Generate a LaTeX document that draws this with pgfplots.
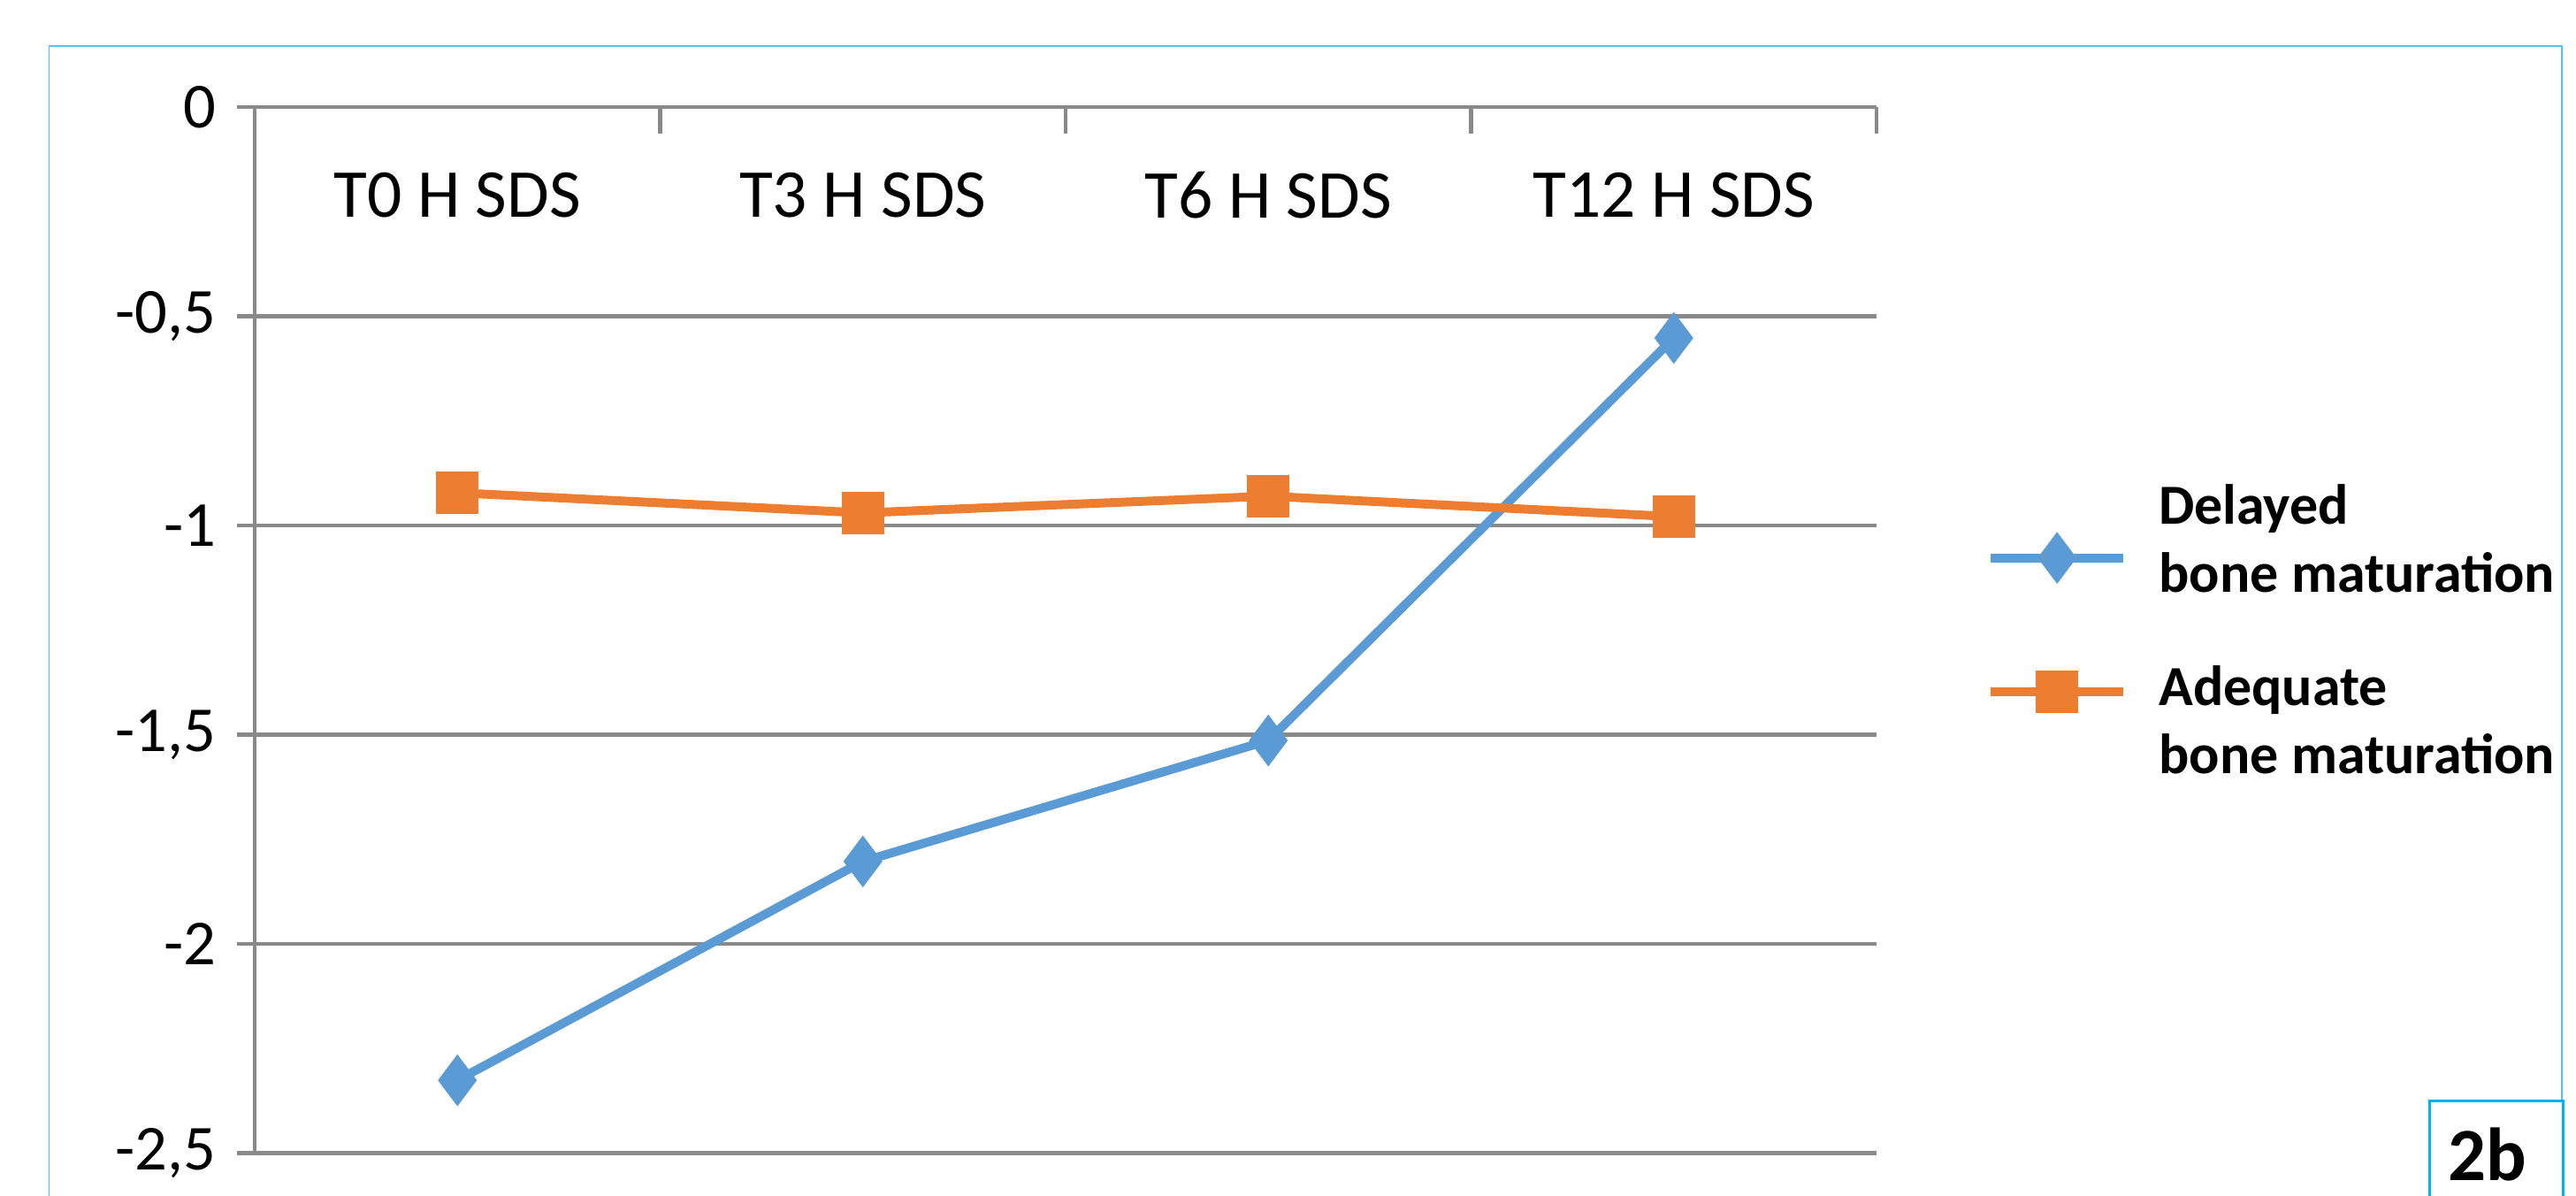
\documentclass[border=0pt]{standalone}
\usepackage{pgfplots}
\pgfplotsset{compat=1.18}
\usepackage{fontspec}
\setmainfont{Carlito}
\definecolor{delayed}{HTML}{5B9BD5}
\definecolor{adequate}{HTML}{ED7D31}
\definecolor{gridgray}{HTML}{898989}
\definecolor{frameblue}{HTML}{4FC3F7}
\definecolor{boxblue}{HTML}{00B0F0}
\begin{document}
\begin{tikzpicture}
\useasboundingbox (0,0) rectangle (582.6pt,270.2pt);
\draw[frameblue, line width=0.3pt] (11.1pt,-5pt) -- (11.1pt,259.8pt) -- (579.4pt,259.8pt) -- (579.4pt,-5pt);
\begin{axis}[
    at={(57.6pt,9.5pt)}, anchor=south west,
    scale only axis,
    width=366.8pt, height=236.5pt,
    xmin=-0.5, xmax=3.5,
    ymin=-2.5, ymax=0,
    axis x line*=top,
    axis y line*=left,
    axis line style={gridgray, line width=0.9pt, -},
    xtick={0,1,2,3},
    xticklabels={T0 H SDS, T3 H SDS, T6 H SDS, T12 H SDS},
    minor xtick={-0.5,0.5,1.5,2.5,3.5},
    major x tick style={draw=none},
    minor tick length=6pt,
    minor x tick style={gridgray, line width=0.9pt},
    xticklabel style={anchor=center, yshift=-20pt, font=\fontsize{15.5}{18}\selectfont},
    ytick={-2.5,-2,-1.5,-1,-0.5,0},
    tick align=inside,
    major tick length=4pt,
    ytick style={gridgray, line width=0.9pt, xshift=-4pt},
    yticklabel style={font=\fontsize{14.5}{17}\selectfont, xshift=-5.2pt},
    /pgf/number format/assume math mode=true,
    /pgf/number format/use comma,
    ymajorgrids,
    grid style={gridgray, line width=0.9pt},
    legend cell align=left,
    legend image code/.code={\draw[mark repeat=2,mark phase=2,#1] plot coordinates {(0pt,0pt) (15pt,0pt) (30pt,0pt)};},
    legend style={at={(1.059,0.498)}, anchor=west, draw=none, fill=none,
        row sep=11pt, column sep=5pt,
        nodes={align=left, font=\bfseries\fontsize{12.8}{15.5}\selectfont}},
]
\addplot[delayed, line width=2pt, mark=diamond*, mark size=4.2pt, mark options={solid},
    legend image post style={yshift=-3.7pt}]
    coordinates {(0,-2.326) (1,-1.803) (2,-1.514) (3,-0.552)};
\addplot[adequate, line width=2pt, mark=square*, mark size=3.8pt, mark options={solid},
    legend image post style={yshift=7pt}]
    coordinates {(0,-0.922) (1,-0.970) (2,-0.930) (3,-0.979)};
\legend{Delayed\\bone maturation, Adequate\\bone maturation}
\end{axis}
\draw[boxblue, line width=0.6pt, fill=white] (549.4pt,-5pt) rectangle (579.6pt,21.4pt);
\node[font=\bfseries\fontsize{17}{20}\selectfont] at (562.5pt,9.2pt) {2b};
\end{tikzpicture}
\end{document}
